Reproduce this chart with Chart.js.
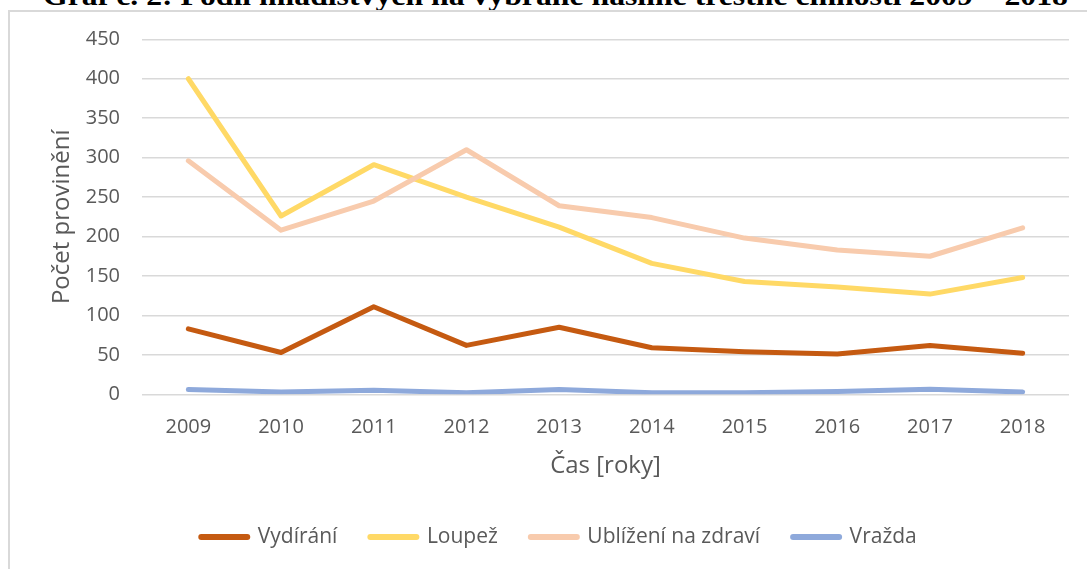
<!DOCTYPE html>
<html>
<head>
<meta charset="utf-8">
<script src="https://cdn.jsdelivr.net/npm/chart.js@4.4.1/dist/chart.umd.min.js"></script>
<style>
  html, body { margin: 0; padding: 0; width: 1087px; height: 569px; overflow: hidden; background: #fff; }
  #title { position: absolute; left: 43px; top: -18.5px; font: bold 28px "Liberation Serif", "Times New Roman", serif; line-height: 28px; white-space: nowrap; color: #000; transform-origin: 0 0; }
  #frame { position: absolute; left: 8px; top: 10px; width: 1200px; height: 700px; border-left: 2px solid #d9d9d9; border-top: 2px solid #d9d9d9; }
  #wrap { position: absolute; left: 10px; top: 12px; width: 1077px; height: 600px; }
</style>
</head>
<body>
<div id="title">Graf č. 2: Podíl mladistvých na vybrané násilné trestné činnosti 2009 – 2018</div>
<div id="frame"></div>
<div id="wrap"><canvas id="c" width="1077" height="600"></canvas></div>
<script>
const years = ['2009','2010','2011','2012','2013','2014','2015','2016','2017','2018'];
const vydirani = [83, 53, 111, 62, 85, 59, 54, 51, 62, 52];
const loupez = [400, 226, 291, 250, 212, 166, 143, 136, 127, 148];
const ublizeni = [296, 208, 245, 310, 239, 224, 198, 183, 175, 211];
const vrazda = [6, 3, 5, 2, 6, 2, 2, 3.5, 6.5, 3];
const seriesNames = ['Vydírání', 'Loupež', 'Ublížení na zdraví', 'Vražda'];
const yTicks = [0, 50, 100, 150, 200, 250, 300, 350, 400, 450];

// fit title width
(function(){
  const t = document.getElementById('title');
  const w = t.getBoundingClientRect().width;
  t.style.transform = 'scaleX(' + (1025 / w) + ')';
})();

const colors = ['#C55A11', '#FFD966', '#F8CBAD', '#8EA9DB'];
const values = [vydirani, loupez, ublizeni, vrazda];
const FONT = '"Open Sans", "Liberation Sans", sans-serif';

const datasets = seriesNames.map((n, i) => ({
  label: n,
  data: values[i],
  borderColor: colors[i],
  backgroundColor: colors[i],
  borderWidth: 5,
  pointRadius: 0,
  pointHoverRadius: 0,
  tension: 0,
  fill: false,
  borderCapStyle: 'round',
  borderJoinStyle: 'round',
  order: 3 - i
}));

new Chart(document.getElementById('c'), {
  type: 'line',
  data: { labels: years, datasets },
  options: {
    responsive: false,
    animation: false,
    devicePixelRatio: 1,
    layout: { padding: { left: 39, right: 18, top: 27.3, bottom: 54.5 } },
    plugins: {
      tooltip: { enabled: false },
      legend: {
        position: 'bottom',
        labels: {
          font: { family: FONT, size: 21 },
          color: '#595959',
          usePointStyle: true,
          pointStyle: 'line',
          pointStyleWidth: 46,
          padding: 33,
          sort: (a, b) => a.datasetIndex - b.datasetIndex,
          generateLabels: (chart) => chart.data.datasets.map((d, i) => ({
            text: d.label,
            fillStyle: d.borderColor,
            strokeStyle: d.borderColor,
            lineWidth: 6,
            lineCap: 'round',
            pointStyle: 'line',
            fontColor: '#595959',
            hidden: false,
            datasetIndex: i
          }))
        }
      }
    },
    scales: {
      x: {
        offset: true,
        grid: { display: false, drawTicks: false },
        border: { display: false },
        ticks: { font: { family: FONT, size: 20 }, color: '#595959', padding: 20.7, maxRotation: 0 },
        title: { display: true, text: 'Čas [roky]', font: { family: FONT, size: 24 }, color: '#595959', padding: { top: 0, bottom: 13.1 } },
        afterFit: (s) => { s.height = 99.2; }
      },
      y: {
        min: 0,
        max: 450,
        afterBuildTicks: (s) => { s.ticks = yTicks.map(v => ({ value: v })); },
        grid: { color: '#d9d9d9', lineWidth: 1.5, drawTicks: true, tickLength: 22, tickColor: 'rgba(0,0,0,0)' },
        border: { display: false },
        ticks: { font: { family: FONT, size: 20 }, color: '#595959', padding: 0 },
        title: { display: true, text: 'Počet provinění', font: { family: FONT, size: 24, lineHeight: 1 }, color: '#595959', padding: { top: 1, bottom: 0 } },
        afterFit: (s) => { s.width = 93; }
      }
    }
  }
});
</script>
</body>
</html>
